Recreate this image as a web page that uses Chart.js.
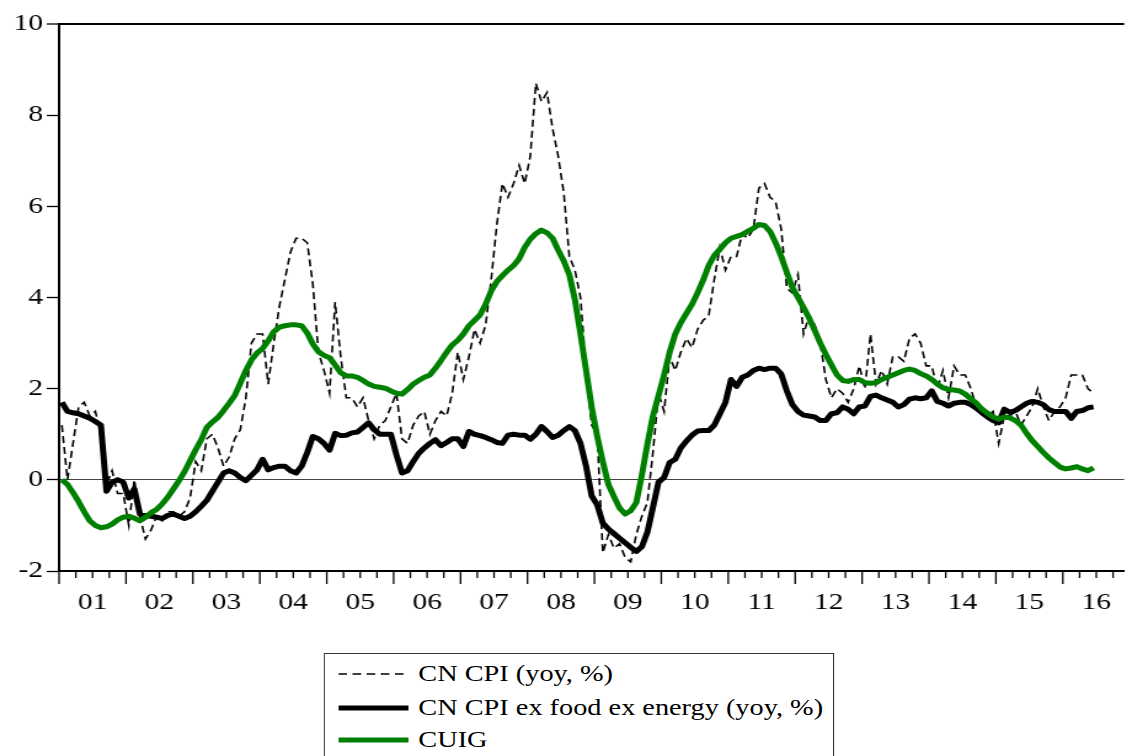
<!DOCTYPE html>
<html>
<head>
<meta charset="utf-8">
<script src="https://cdn.jsdelivr.net/npm/chart.js@4/dist/chart.umd.min.js"></script>
<style>
html,body{margin:0;padding:0;background:#fff;overflow:hidden;width:1132px;height:756px;}
#wrap{position:absolute;left:0;top:0;width:920px;height:756px;overflow:hidden;transform:scaleX(1.2304);transform-origin:0 0;}
#c{position:absolute;left:0;top:0;}
#legend{position:absolute;left:263px;top:653px;width:415px;height:120px;border:1.3px solid #333;box-sizing:border-box;background:#fff;
  font-family:"Liberation Serif","Times New Roman",serif;font-size:23px;color:#000;}
.row{position:absolute;left:0;width:100%;height:30px;}
.row svg{position:absolute;left:11px;top:0;}
.row span{position:absolute;left:76px;top:0;line-height:30px;white-space:nowrap;}
</style>
</head>
<body>
<div id="wrap">
  <canvas id="c" width="920" height="756"></canvas>
  <div id="legend">
    <div class="row" style="top:5px"><svg width="58" height="30"><line x1="0" y1="15" x2="57" y2="15" stroke="#000" stroke-width="1.6" stroke-dasharray="7,4.5"/></svg><span>CN CPI (yoy, %)</span></div>
    <div class="row" style="top:39px"><svg width="58" height="30"><line x1="0" y1="15" x2="57" y2="15" stroke="#000" stroke-width="5"/></svg><span>CN CPI ex food ex energy (yoy, %)</span></div>
    <div class="row" style="top:71px"><svg width="58" height="30"><line x1="0" y1="15" x2="57" y2="15" stroke="#008000" stroke-width="5"/></svg><span>CUIG</span></div>
  </div>
</div>
<script>
// ---- data (monthly, Jan 2001 .. Jun 2016) ----
const startYear = 2001;
const tickLabels = ['01','02','03','04','05','06','07','08','09','10','11','12','13','14','15','16'];

const cpi = [
  1.2, 0.0, 0.8, 1.6, 1.7, 1.4, 1.5, 1.0, -0.1, 0.2, -0.3, -0.3,
  -1.0, 0.0, -0.8, -1.3, -1.1, -0.8, -0.9, -0.7, -0.7, -0.8, -0.7, -0.4,
  0.4, 0.2, 0.9, 1.0, 0.7, 0.3, 0.5, 0.9, 1.1, 1.8, 3.0, 3.2,
  3.2, 2.1, 3.0, 3.8, 4.4, 5.0, 5.3, 5.3, 5.2, 4.3, 2.8, 2.4,
  1.9, 3.9, 2.7, 1.8, 1.8, 1.6, 1.8, 1.3, 0.9, 1.2, 1.3, 1.6,
  1.9, 0.9, 0.8, 1.2, 1.4, 1.5, 1.0, 1.3, 1.5, 1.4, 1.9, 2.8,
  2.2, 2.7, 3.3, 3.0, 3.4, 4.4, 5.6, 6.5, 6.2, 6.5, 6.9, 6.5,
  7.1, 8.7, 8.3, 8.5, 7.7, 7.1, 6.3, 4.9, 4.6, 4.0, 2.4, 1.2,
  1.0, -1.6, -1.2, -1.5, -1.4, -1.7, -1.8, -1.2, -0.8, -0.5, 0.6, 1.9,
  1.5, 2.7, 2.4, 2.8, 3.1, 2.9, 3.3, 3.5, 3.6, 4.4, 5.1, 4.6,
  4.9, 4.9, 5.4, 5.3, 5.5, 6.4, 6.5, 6.2, 6.1, 5.5, 4.2, 4.1,
  4.5, 3.2, 3.6, 3.4, 3.0, 2.2, 1.8, 2.0, 1.9, 1.7, 2.0, 2.5,
  2.0, 3.2, 2.1, 2.4, 2.1, 2.7, 2.7, 2.6, 3.1, 3.2, 3.0, 2.5,
  2.5, 2.0, 2.4, 1.8, 2.5, 2.3, 2.3, 2.0, 1.6, 1.6, 1.4, 1.5,
  0.8, 1.4, 1.4, 1.5, 1.2, 1.4, 1.6, 2.0, 1.6, 1.3, 1.5, 1.6,
  1.8, 2.3, 2.3, 2.3, 2.0, 1.9
];

const core = [
  1.7, 1.5, 1.47, 1.45, 1.4, 1.35, 1.28, 1.2, -0.25, -0.05, 0.0, -0.05,
  -0.4, -0.2, -0.75, -0.78, -0.8, -0.82, -0.85, -0.78, -0.75, -0.8, -0.85, -0.8,
  -0.7, -0.58, -0.45, -0.25, -0.05, 0.15, 0.2, 0.15, 0.05, -0.02, 0.1, 0.22,
  0.45, 0.22, 0.27, 0.3, 0.3, 0.2, 0.15, 0.3, 0.6, 0.95, 0.9, 0.8,
  0.65, 1.02, 0.97, 0.98, 1.03, 1.05, 1.15, 1.25, 1.1, 1.0, 1.0, 1.0,
  0.55, 0.15, 0.2, 0.4, 0.58, 0.7, 0.8, 0.88, 0.75, 0.82, 0.9, 0.9,
  0.73, 1.06, 1.0, 0.97, 0.93, 0.88, 0.82, 0.8, 0.98, 1.0, 0.98, 0.98,
  0.89, 1.0, 1.17, 1.06, 0.93, 0.98, 1.08, 1.17, 1.08, 0.8, 0.3, -0.35,
  -0.55, -0.95, -1.08, -1.18, -1.28, -1.38, -1.48, -1.57, -1.47, -1.15, -0.6, -0.05,
  0.05, 0.38, 0.45, 0.7, 0.85, 0.98, 1.07, 1.08, 1.08, 1.2, 1.45, 1.7,
  2.2, 2.05, 2.25, 2.3, 2.4, 2.45, 2.42, 2.45, 2.45, 2.32, 1.95, 1.65,
  1.5, 1.42, 1.4, 1.38, 1.3, 1.3, 1.45, 1.47, 1.6, 1.55, 1.45, 1.6,
  1.62, 1.83, 1.86, 1.8, 1.75, 1.7, 1.6, 1.65, 1.77, 1.8, 1.78, 1.8,
  1.95, 1.72, 1.68, 1.62, 1.68, 1.7, 1.7, 1.65, 1.57, 1.47, 1.38, 1.3,
  1.25, 1.55, 1.48, 1.52, 1.6, 1.68, 1.72, 1.7, 1.65, 1.54, 1.5, 1.5,
  1.5, 1.35, 1.5, 1.52, 1.58, 1.6
];

const cuig = [
  0.0, -0.1, -0.28, -0.48, -0.7, -0.9, -1.0, -1.05, -1.03, -0.97, -0.88, -0.82,
  -0.8, -0.84, -0.9, -0.82, -0.72, -0.65, -0.53, -0.38, -0.2, -0.02, 0.18, 0.42,
  0.66, 0.88, 1.15, 1.27, 1.37, 1.52, 1.68, 1.85, 2.12, 2.4, 2.63, 2.78,
  2.88, 3.05, 3.25, 3.35, 3.38, 3.4, 3.4, 3.38, 3.22, 2.98, 2.81, 2.73,
  2.68, 2.52, 2.35, 2.28, 2.28, 2.25, 2.18, 2.1, 2.05, 2.03, 2.01, 1.95,
  1.9, 1.88, 1.98, 2.1, 2.18, 2.25, 2.3, 2.45, 2.62, 2.8, 2.96, 3.06,
  3.2, 3.38, 3.5, 3.62, 3.85, 4.15, 4.35, 4.48, 4.6, 4.7, 4.85, 5.1,
  5.28, 5.4, 5.48, 5.42, 5.3, 5.04, 4.8, 4.5, 3.95, 3.2, 2.4, 1.6,
  0.95, 0.4, -0.1, -0.37, -0.62, -0.75, -0.68, -0.5, 0.1, 0.78, 1.4, 1.85,
  2.3, 2.8, 3.2, 3.45, 3.65, 3.85, 4.1, 4.38, 4.7, 4.92, 5.06, 5.2,
  5.3, 5.34, 5.38, 5.45, 5.52, 5.6, 5.58, 5.45, 5.2, 4.9, 4.55, 4.22,
  4.0, 3.78, 3.55, 3.28, 3.0, 2.75, 2.52, 2.3, 2.18, 2.16, 2.2, 2.2,
  2.13, 2.12, 2.13, 2.2, 2.25, 2.3, 2.35, 2.4, 2.43, 2.4, 2.33, 2.28,
  2.2, 2.1, 2.02, 1.98, 1.97, 1.95, 1.88, 1.78, 1.68, 1.55, 1.46, 1.38,
  1.33, 1.38, 1.36, 1.3, 1.2, 1.02, 0.86, 0.73, 0.6, 0.48, 0.38, 0.28,
  0.24, 0.26, 0.29, 0.24, 0.2, 0.26
];

// month i sits in the middle of its month on a continuous year axis
const toPoints = arr => arr.map((v, i) => ({ x: startYear + (i + 0.5) / 12, y: v }));

const FONT = 'Liberation Serif';

// quarterly tick marks on the time axis (longer at year boundaries)
const quarterTicks = {
  id: 'quarterTicks',
  afterDraw(chart) {
    const xs = chart.scales.x, ctx = chart.ctx, y0 = chart.chartArea.bottom;
    ctx.save();
    ctx.strokeStyle = '#000';
    ctx.lineWidth = 1.3;
    for (let q = 0; startYear + q * 0.25 <= xs.max + 1e-9; q++) {
      const px = xs.getPixelForValue(startYear + q * 0.25);
      const len = (q % 4 === 0) ? 13 : 7;
      ctx.beginPath();
      ctx.moveTo(px, y0);
      ctx.lineTo(px, y0 + len);
      ctx.stroke();
    }
    ctx.restore();
  }
};

new Chart(document.getElementById('c'), {
  type: 'line',
  data: {
    datasets: [
      { label: 'CN CPI (yoy, %)', data: toPoints(cpi), borderColor: '#000', borderWidth: 1.6,
        borderDash: [7, 4], pointRadius: 0, fill: false, order: 2 },
      { label: 'CN CPI ex food ex energy (yoy, %)', data: toPoints(core), borderColor: '#000', borderWidth: 5,
        borderJoinStyle: 'round', pointRadius: 0, fill: false, order: 1 },
      { label: 'CUIG', data: toPoints(cuig), borderColor: '#008000', borderWidth: 5,
        borderJoinStyle: 'round', pointRadius: 0, fill: false, order: 0 }
    ]
  },
  options: {
    responsive: false,
    animation: false,
    devicePixelRatio: 1,
    layout: { padding: { top: 24, left: 0, right: 0, bottom: 0 } },
    plugins: { legend: { display: false }, tooltip: { enabled: false } },
    scales: {
      x: {
        type: 'linear',
        min: startYear,
        max: 2016 + 11 / 12,
        afterBuildTicks: s => { s.ticks = tickLabels.map((t, k) => ({ value: startYear + k + 0.5 })); },
        afterFit: s => { s.height = 185; },
        grid: { display: false, drawTicks: false },
        border: { display: true, color: '#000', width: 2 },
        ticks: {
          callback: (v, i) => tickLabels[i],
          font: { family: FONT, size: 24 },
          color: '#000',
          padding: 17,
          maxRotation: 0,
          autoSkip: false
        }
      },
      y: {
        min: -2,
        max: 10,
        afterFit: s => { s.width = 48; },
        ticks: { stepSize: 2, font: { family: FONT, size: 24 }, color: '#000', padding: 3 },
        grid: {
          drawOnChartArea: true,
          color: c => c.tick.value === 0 ? '#444' : (c.tick.value === 10 ? '#000' : 'rgba(0,0,0,0)'),
          lineWidth: c => c.tick.value === 10 ? 2 : 1,
          tickColor: '#000',
          tickLength: 10,
          tickWidth: 1.3
        },
        border: { display: true, color: '#000', width: 2 }
      }
    }
  },
  plugins: [quarterTicks]
});
</script>
</body>
</html>
